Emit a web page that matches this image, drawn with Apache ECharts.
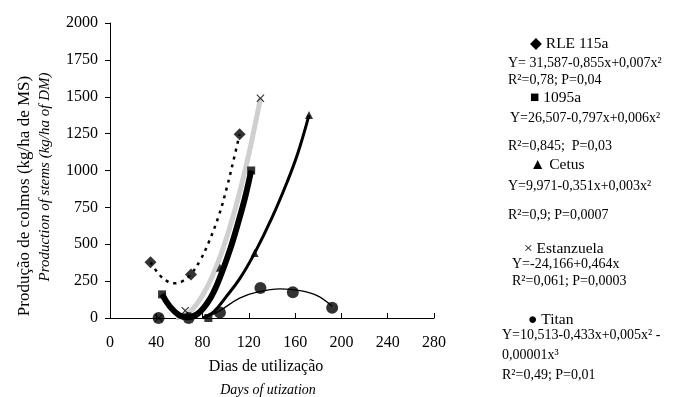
<!DOCTYPE html>
<html>
<head>
<meta charset="utf-8">
<script src="https://cdn.jsdelivr.net/npm/echarts@6/dist/echarts.min.js"></script>
<style>
html,body{margin:0;padding:0;background:#fff;}
#chart{width:677px;height:397px;}
</style>
</head>
<body>
<div id="chart"></div>
<script>
// ---- Observed points (days, kg/ha DM) ----
const rleDays = [35, 70, 112];
const rleVals = [378, 295, 1245];
const c1095Days = [45, 85, 122];
const c1095Vals = [160, 0, 1000];
const cetusDays = [95, 125, 172];
const cetusVals = [340, 440, 1376];
const estDays = [42, 65, 130];
const estVals = [0, 50, 1490];
const titanDays = [42, 68, 95, 130, 158, 192];
const titanVals = [0, 0, 38, 204, 174, 70];

// ---- Fitted trend lines ----
const rleTrendDays = [35, 43, 50, 56, 63, 70, 78, 85, 94, 101, 107, 112];
const rleTrendVals = [378, 290, 247, 235, 251, 298, 392, 507, 693, 885, 1078, 1245];
const c1095TrendDays = [45, 52, 60, 67, 76, 86, 94, 104, 112, 117, 122];
const c1095TrendVals = [160, 75, 18, 5, 30, 125, 255, 470, 680, 825, 1000];
const cetusTrendDays = [80, 90, 100, 112, 125, 140, 153, 162, 172];
const cetusTrendVals = [0, 45, 140, 265, 440, 680, 920, 1110, 1376];
const estTrendDays = [57, 65, 72, 80, 88, 97, 107, 117, 123, 130];
const estTrendVals = [0, 20, 65, 155, 275, 455, 705, 1010, 1220, 1490];
const titanTrendDays = [82, 95, 112, 127, 147, 164, 179, 192];
const titanTrendVals = [0, 50, 135, 175, 197, 186, 152, 80];

// ---- Axis settings ----
const xMin = 0, xMax = 280, xStep = 40;
const yMin = 0, yMax = 2000, yStep = 250;

const pair = (xs, ys) => xs.map((x, i) => [x, ys[i]]);
const SERIF = "'Liberation Serif', 'DejaVu Serif', serif";
const xSym = 'path://M0,1L1,0L5,4L9,0L10,1L6,5L10,9L9,10L5,6L1,10L0,9L4,5Z';

const chart = echarts.init(document.getElementById('chart'));

function lineSeries(name, xs, ys, style) {
  return {
    name: name, type: 'line', data: pair(xs, ys), smooth: 0.4,
    showSymbol: false, symbol: 'none', lineStyle: style, silent: true, z: 2
  };
}
function pointSeries(name, xs, ys, symbol, size) {
  return {
    name: name, type: 'scatter', data: pair(xs, ys), symbol: symbol,
    symbolSize: size, itemStyle: { color: '#000' }, z: 5
  };
}

const legendLines = [
  { t: '◆ RLE 115a', x: 530, y: 44, s: 15.5 },
  { t: 'Y= 31,587-0,855x+0,007x²', x: 508, y: 63, s: 14 },
  { t: 'R²=0,78; P=0,04', x: 508, y: 80, s: 14 },
  { t: '■ 1095a', x: 530, y: 98, s: 15.5 },
  { t: 'Y=26,507-0,797x+0,006x²', x: 510, y: 118, s: 14 },
  { t: 'R²=0,845;  P=0,03', x: 508, y: 146, s: 14 },
  { t: '▲ Cetus', x: 530, y: 165, s: 15.5 },
  { t: 'Y=9,971-0,351x+0,003x²', x: 508, y: 186, s: 14 },
  { t: 'R²=0,9; P=0,0007', x: 508, y: 215, s: 14 },
  { t: '× Estanzuela', x: 524, y: 249, s: 15.5 },
  { t: 'Y=-24,166+0,464x', x: 512, y: 264, s: 14 },
  { t: 'R²=0,061; P=0,0003', x: 512, y: 281, s: 14 },
  { t: '● Titan', x: 528, y: 320, s: 15.5 },
  { t: 'Y=10,513-0,433x+0,005x² -', x: 502, y: 335, s: 14 },
  { t: '0,00001x³', x: 502, y: 355, s: 14 },
  { t: 'R²=0,49; P=0,01', x: 502, y: 375, s: 14 }
];

const graphics = legendLines.map(l => ({
  type: 'text', x: l.x, y: l.y,
  style: { text: l.t, fontFamily: SERIF, fontSize: l.s, fill: '#000', verticalAlign: 'middle', align: 'left' }
}));
graphics.push(
  { type: 'text', x: 25, y: 196, rotation: Math.PI / 2,
    style: { text: 'Produção de colmos (kg/ha de MS)', fontFamily: SERIF, fontSize: 17, fill: '#000', align: 'center', verticalAlign: 'middle' } },
  { type: 'text', x: 45, y: 177, rotation: Math.PI / 2,
    style: { text: 'Production of stems (kg/ha of DM)', fontFamily: SERIF, fontSize: 15, fontStyle: 'italic', fill: '#000', align: 'center', verticalAlign: 'middle' } },
  { type: 'text', x: 266, y: 367,
    style: { text: 'Dias de utilização', fontFamily: SERIF, fontSize: 16, fill: '#000', align: 'center', verticalAlign: 'middle' } },
  { type: 'text', x: 268, y: 390,
    style: { text: 'Days of utization', fontFamily: SERIF, fontSize: 14, fontStyle: 'italic', fill: '#000', align: 'center', verticalAlign: 'middle' } }
);

chart.setOption({
  animation: false,
  backgroundColor: '#fff',
  grid: { left: 110, top: 23, width: 324, height: 295, containLabel: false },
  xAxis: {
    type: 'value', min: xMin, max: xMax, interval: xStep,
    axisLine: { show: true, lineStyle: { color: '#000', width: 1 } },
    axisTick: { show: true, inside: true, length: 5, lineStyle: { color: '#000' } },
    axisLabel: { color: '#000', fontFamily: SERIF, fontSize: 16, margin: 17, formatter: v => String(v) },
    splitLine: { show: false }
  },
  yAxis: {
    type: 'value', min: yMin, max: yMax, interval: yStep,
    axisLine: { show: true, lineStyle: { color: '#000', width: 1 } },
    axisTick: { show: true, inside: false, length: 5, lineStyle: { color: '#000' } },
    axisLabel: { color: '#000', fontFamily: SERIF, fontSize: 16, margin: 12, formatter: v => String(v) },
    splitLine: { show: false }
  },
  series: [
    lineSeries('Estanzuela fit', estTrendDays, estTrendVals, { color: '#cfcfcf', width: 5 }),
    lineSeries('RLE 115a fit', rleTrendDays, rleTrendVals, { color: '#000', width: 2.5, type: [3, 5] }),
    lineSeries('1095a fit', c1095TrendDays, c1095TrendVals, { color: '#000', width: 6 }),
    lineSeries('Cetus fit', cetusTrendDays, cetusTrendVals, { color: '#000', width: 3 }),
    lineSeries('Titan fit', titanTrendDays, titanTrendVals, { color: '#000', width: 1.3 }),
    pointSeries('RLE 115a', rleDays, rleVals, 'diamond', 12),
    pointSeries('1095a', c1095Days, c1095Vals, 'rect', 8),
    pointSeries('Cetus', cetusDays, cetusVals, 'triangle', 8),
    pointSeries('Estanzuela', estDays, estVals, xSym, 8),
    pointSeries('Titan', titanDays, titanVals, 'circle', 12)
  ],
  graphic: graphics
});
</script>
</body>
</html>
